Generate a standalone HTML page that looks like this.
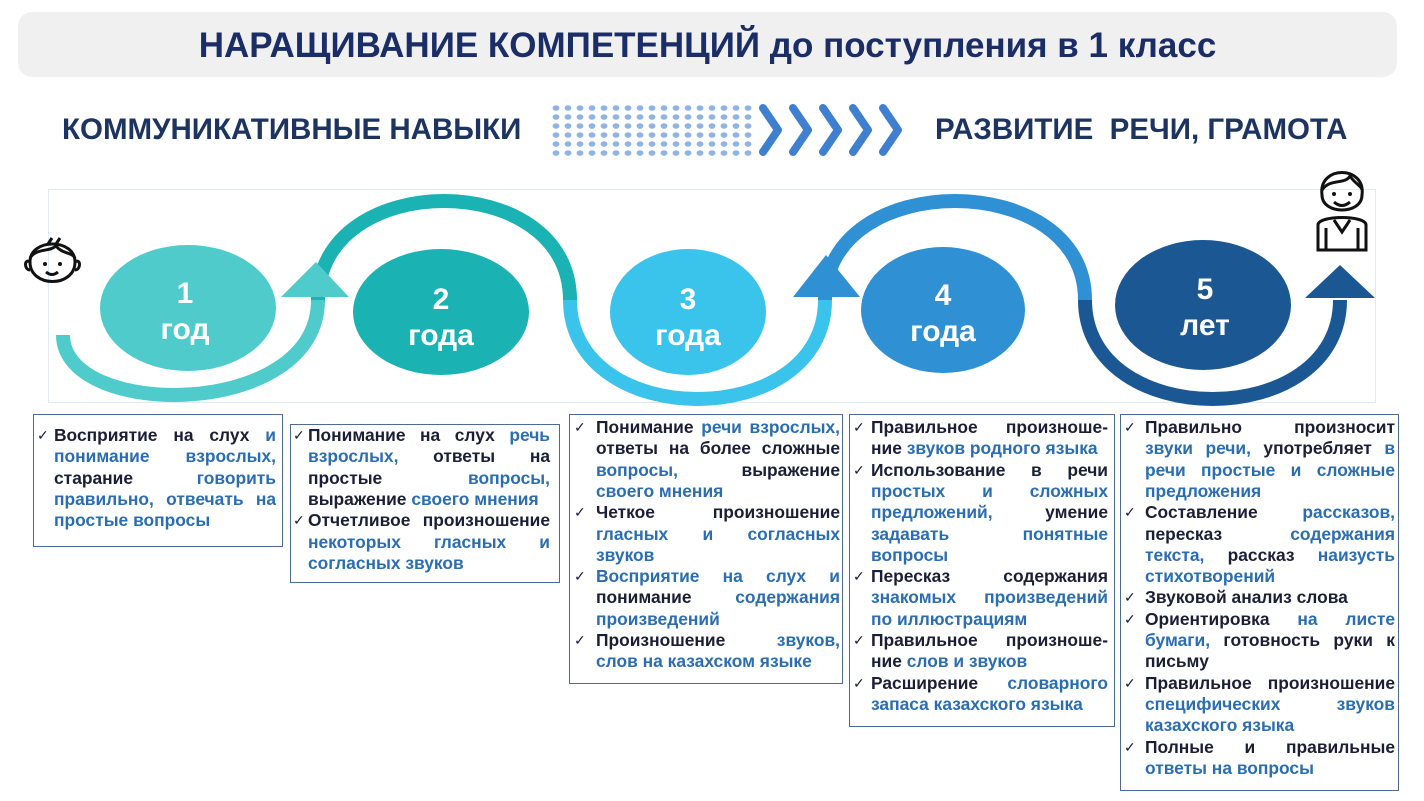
<!DOCTYPE html>
<html><head><meta charset="utf-8">
<style>
*{margin:0;padding:0;box-sizing:border-box}
body{width:1424px;height:801px;background:#fff;position:relative;overflow:hidden;font-family:"Liberation Sans",Arial,sans-serif}
.hdr{position:absolute;left:18px;top:12px;width:1379px;height:65px;background:#f0f0f1;border-radius:14px;text-align:center;font-weight:bold;font-size:35px;color:#1b2d66;line-height:68px}
.sub{position:absolute;font-weight:bold;font-size:29.5px;color:#1d3461;top:113px}
.box{position:absolute;border:1.5px solid #4d6a94}
.l{position:absolute;font-weight:bold;font-size:17.4px;line-height:21.3px;color:#1a1f36;white-space:nowrap;overflow:visible}
.j{text-align:justify;text-align-last:justify;white-space:normal}
.b{color:#2a6db2}
.ck{position:absolute;font-weight:normal;font-size:14px;color:#1a1f36}
</style></head><body>
<div class="hdr">НАРАЩИВАНИЕ КОМПЕТЕНЦИЙ до поступления в 1 класс</div>
<div class="sub" style="left:62px">КОММУНИКАТИВНЫЕ НАВЫКИ</div>
<div class="sub" style="left:935px">РАЗВИТИЕ&nbsp; РЕЧИ, ГРАМОТА</div>

<svg style="position:absolute;left:0;top:0" width="1424" height="801">
<g fill="#8fb4e3" id="dots"></g>
<g fill="none" stroke="#3f7fcf" stroke-width="8" stroke-linecap="round" stroke-linejoin="round">
<polyline points="763,108 778,130 763,152"/><polyline points="793,108 808,130 793,152"/><polyline points="823,108 838,130 823,152"/><polyline points="853,108 868,130 853,152"/><polyline points="883,108 898,130 883,152"/>
</g>
<rect x="48.5" y="189.5" width="1327" height="213" fill="none" stroke="#dfeaf3" stroke-width="1"/>
<g fill="none" stroke-width="14">
<path d="M63,335 C63,420 318,420 318,300" stroke="#4fcbcb"/>
<path d="M318,300 C318,168 570,168 570,300" stroke="#1ab2b3"/>
<path d="M570,300 C570,432 825,432 825,300" stroke="#3ac4ec"/>
<path d="M825,300 C825,168 1085,168 1085,300" stroke="#2f90d4"/>
<path d="M1085,300 C1085,432 1340,432 1340,300" stroke="#1b5893"/>
</g>
<polygon points="281,297 349,297 316,262" fill="#4fcbcb"/>
<polygon points="793,297 860,297 826,255" fill="#2f90d4"/>
<polygon points="1305,298 1375,298 1340,265" fill="#1b5893"/>
<ellipse cx="188" cy="308" rx="88" ry="63" fill="#4fcbcb"/>
<ellipse cx="441" cy="312" rx="88" ry="63" fill="#1ab2b3"/>
<ellipse cx="688" cy="312" rx="78" ry="63" fill="#3ac4ec"/>
<ellipse cx="943" cy="310" rx="82" ry="63" fill="#2f90d4"/>
<ellipse cx="1203" cy="305" rx="88" ry="65" fill="#1b5893"/>
<g fill="#fff" font-family="Liberation Sans,Arial,sans-serif" font-weight="bold" font-size="30" text-anchor="middle">
<text x="185" y="303">1</text><text x="185" y="339">год</text>
<text x="441" y="309">2</text><text x="441" y="345">года</text>
<text x="688" y="309">3</text><text x="688" y="345">года</text>
<text x="943" y="305">4</text><text x="943" y="341">года</text>
<text x="1205" y="299">5</text><text x="1205" y="335">лет</text>
</g>
<g fill="none" stroke="#111" stroke-width="3">
<path d="M30,262 C30,238 75,238 75,262 C75,288 30,288 30,262Z"/>
<path d="M30,258 C36,248 50,252 56,246 C62,254 72,252 75,258"/>
<path d="M48,244 L52,238 M56,244 L60,238"/>
<path d="M46,272 Q52,277 58,272"/>
<path d="M30,262 C24,258 24,270 30,270 M75,262 C81,258 81,270 75,270"/>
</g>
<circle cx="45" cy="264" r="2" fill="#111"/><circle cx="60" cy="264" r="2" fill="#111"/>
<g fill="none" stroke="#111" stroke-width="3">
<path d="M1322,195 C1318,165 1366,165 1362,195 C1362,215 1322,215 1322,195Z"/>
<path d="M1322,190 C1330,178 1345,185 1350,176 C1355,184 1362,186 1362,190"/>
<path d="M1334,202 Q1342,209 1350,202"/>
<path d="M1318,250 L1318,225 C1318,215 1366,215 1366,225 L1366,250 Z"/>
<path d="M1326,250 L1326,228 M1358,250 L1358,228 M1334,220 L1342,232 L1350,220"/>
</g>
<circle cx="1334" cy="194" r="2" fill="#111"/><circle cx="1350" cy="194" r="2" fill="#111"/>
</svg>
<script>
var g=document.getElementById('dots'),s='';
for(var r=0;r<6;r++)for(var c=0;c<17;c++)s+='<ellipse cx="'+(556+c*12)+'" cy="'+(108+r*9)+'" rx="3.4" ry="2.8"/>';
g.innerHTML=s;
</script>

<div class="box" style="left:33px;top:414px;width:250px;height:133px"></div>
<div class="box" style="left:290px;top:424px;width:270px;height:159px"></div>
<div class="box" style="left:569px;top:414px;width:274px;height:270px"></div>
<div class="box" style="left:849px;top:414px;width:266px;height:313px"></div>
<div class="box" style="left:1120px;top:414px;width:279px;height:377px"></div>

<div id="t"></div>
<script>
var B=[
[37,54,276,425,[
[1,'j','Восприятие на слух <span class="b">и</span>'],
[0,'j','<span class="b">понимание взрослых,</span>'],
[0,'j','старание <span class="b">говорить</span>'],
[0,'j','<span class="b">правильно, отвечать на</span>'],
[0,'','<span class="b">простые вопросы</span>']]],
[293,308,550,425,[
[1,'j','Понимание на слух <span class="b">речь</span>'],
[0,'j','<span class="b">взрослых,</span> ответы на'],
[0,'j','простые <span class="b">вопросы,</span>'],
[0,'','выражение <span class="b">своего мнения</span>'],
[1,'j','Отчетливое произношение'],
[0,'j','<span class="b">некоторых гласных и</span>'],
[0,'','<span class="b">согласных звуков</span>']]],
[574,596,840,417,[
[1,'j','Понимание <span class="b">речи взрослых,</span>'],
[0,'j','ответы на более сложные'],
[0,'j','<span class="b">вопросы,</span> выражение'],
[0,'','<span class="b">своего мнения</span>'],
[1,'j','Четкое произношение'],
[0,'j','<span class="b">гласных и согласных</span>'],
[0,'','<span class="b">звуков</span>'],
[1,'j','<span class="b">Восприятие на слух и</span>'],
[0,'j','понимание <span class="b">содержания</span>'],
[0,'','<span class="b">произведений</span>'],
[1,'j','Произношение <span class="b">звуков,</span>'],
[0,'','<span class="b">слов на казахском языке</span>']]],
[853,871,1108,417,[
[1,'j','Правильное произноше-'],
[0,'','ние <span class="b">звуков родного языка</span>'],
[1,'j','Использование в речи'],
[0,'j','<span class="b">простых и сложных</span>'],
[0,'j','<span class="b">предложений,</span> умение'],
[0,'j','<span class="b">задавать понятные</span>'],
[0,'','<span class="b">вопросы</span>'],
[1,'j','Пересказ содержания'],
[0,'j','<span class="b">знакомых произведений</span>'],
[0,'','<span class="b">по иллюстрациям</span>'],
[1,'j','Правильное произноше-'],
[0,'','ние <span class="b">слов и звуков</span>'],
[1,'j','Расширение <span class="b">словарного</span>'],
[0,'','<span class="b">запаса казахского языка</span>']]],
[1124,1145,1395,417,[
[1,'j','Правильно произносит'],
[0,'j','<span class="b">звуки речи,</span> употребляет <span class="b">в</span>'],
[0,'j','<span class="b">речи простые и сложные</span>'],
[0,'','<span class="b">предложения</span>'],
[1,'j','Составление <span class="b">рассказов,</span>'],
[0,'j','пересказ <span class="b">содержания</span>'],
[0,'j','<span class="b">текста,</span> рассказ <span class="b">наизусть</span>'],
[0,'','<span class="b">стихотворений</span>'],
[1,'','Звуковой анализ слова'],
[1,'j','Ориентировка <span class="b">на листе</span>'],
[0,'j','<span class="b">бумаги,</span> готовность руки к'],
[0,'','письму'],
[1,'j','Правильное произношение'],
[0,'j','<span class="b">специфических звуков</span>'],
[0,'','<span class="b">казахского языка</span>'],
[1,'j','Полные и правильные'],
[0,'','<span class="b">ответы на вопросы</span>']]]
];
var h='';
B.forEach(function(b){
 b[4].forEach(function(L,i){
  var y=b[3]+i*21.3;
  if(L[0])h+='<div class="ck" style="left:'+b[0]+'px;top:'+(y+2)+'px">✓</div>';
  h+='<div class="l '+L[1]+'" style="left:'+b[1]+'px;top:'+y+'px;width:'+(b[2]-b[1])+'px">'+L[2]+'</div>';
 });
});
document.getElementById('t').innerHTML=h;
</script>
</body></html>
